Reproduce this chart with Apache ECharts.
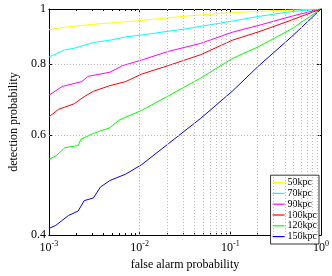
<!DOCTYPE html>
<html><head><meta charset="utf-8">
<script src="https://cdn.jsdelivr.net/npm/echarts@6/dist/echarts.min.js"></script>
<style>html,body{margin:0;padding:0;background:#fff}#c{width:332px;height:276px}</style>
</head><body><div id="c"></div>
<script>
const seriesNames = ['50kpc','70kpc','90kpc','100kpc','120kpc','150kpc'];
const seriesColors = ['#ffff00','#00ffff','#ff00ff','#ff0000','#00ff00','#0000ff'];
const d50 = [[0.001,0.919],[0.0015,0.929],[0.0031,0.940],[0.0093,0.953],[0.0105,0.955],[0.0313,0.971],[0.105,0.986],[0.313,0.993],[1,1]];
const d70 = [[0.001,0.823],[0.0015,0.8475],[0.0019,0.853],[0.0031,0.873],[0.0047,0.881],[0.007,0.893],[0.0105,0.900],[0.0313,0.922],[0.105,0.952],[0.207,0.9706],[0.472,0.9896],[1,1]];
const d90 = [[0.001,0.705],[0.0014,0.7305],[0.0023,0.745],[0.0027,0.761],[0.0047,0.774],[0.0065,0.795],[0.0105,0.813],[0.0207,0.842],[0.0472,0.870],[0.105,0.910],[0.207,0.936],[0.472,0.971],[1,1]];
const d100 = [[0.001,0.646],[0.00128,0.666],[0.0019,0.681],[0.00245,0.701],[0.0031,0.7165],[0.0047,0.733],[0.007,0.745],[0.0105,0.768],[0.0207,0.795],[0.0472,0.831],[0.105,0.881],[0.207,0.912],[0.472,0.956],[1,1]];
const d120 = [[0.001,0.544],[0.00119,0.551],[0.0015,0.570],[0.0021,0.575],[0.00226,0.590],[0.0031,0.604],[0.0047,0.618],[0.006,0.638],[0.0105,0.663],[0.0207,0.703],[0.0472,0.756],[0.105,0.818],[0.207,0.859],[0.472,0.922],[1,1]];
const d150 = [[0.001,0.411],[0.00119,0.416],[0.00164,0.433],[0.0021,0.441],[0.00245,0.460],[0.0031,0.465],[0.0037,0.486],[0.0047,0.499],[0.007,0.512],[0.0105,0.532],[0.0207,0.579],[0.0472,0.642],[0.105,0.7165],[0.207,0.795],[0.472,0.893],[1,1]];
const seriesData = [d50,d70,d90,d100,d120,d150];
const yTicks = [0.4,0.6,0.8,1];
const yGrid = [0.6,0.8];
const xMajor = [0.001,0.01,0.1,1];
const xGrid = [0.002,0.003,0.004,0.005,0.006,0.007,0.008,0.009,0.01,0.02,0.03,0.04,0.05,0.06,0.07,0.08,0.09,0.1,0.2,0.3,0.4,0.5,0.6,0.7,0.8,0.9];
const xMinor = xGrid.filter(v=>xMajor.indexOf(v)<0);

const FONT = 'Liberation Serif';
const chart = echarts.init(document.getElementById('c'));
const gridLineStyle = {color:'#b8b8b8', type:[1,2], width:1};
function tick(vals, len){ return {show:true, inside:true, length:len, customValues:vals, lineStyle:{color:'#000', width:1}}; }
const lineOn = {show:true, onZero:false, lineStyle:{color:'#000', width:1}};
const lineOff = {show:false, onZero:false};
const series = seriesData.map((d,i)=>({
  name: seriesNames[i], type:'line', data:d, showSymbol:false, symbol:'none',
  lineStyle:{color:seriesColors[i], width:1}, itemStyle:{color:seriesColors[i]}, z:3, animation:false
}));
series.push({
  type:'line', data:[], silent:true, z:1, animation:false,
  markLine:{silent:true, symbol:'none', label:{show:false}, lineStyle:gridLineStyle, animation:false,
    data: xGrid.map(v=>({xAxis:v})).concat(yGrid.map(v=>({yAxis:v})))}
});
function xAx(pos, ticks, len, showLine, extra){
  return Object.assign({type:'log', logBase:10, min:0.001, max:1, position:pos,
    axisLine: showLine?lineOn:lineOff, axisTick:tick(ticks,len), axisLabel:{show:false}, splitLine:{show:false}}, extra||{});
}
function yAx(pos, extra){
  return Object.assign({type:'log', logBase:10, min:0.4, max:1, position:pos,
    axisLine: lineOn, axisTick:tick(yTicks,4), axisLabel:{show:false}, splitLine:{show:false}}, extra||{});
}
chart.setOption({
  animation:false,
  grid:{left:33.5, right:11, top:9, bottom:30.5},
  legend:{
    data: seriesNames.map(n=>({name:n, icon:'rect'})),
    orient:'vertical', right:13, bottom:32, itemWidth:12, itemHeight:1.2, itemGap:0,
    padding:[2,2,2,2], borderColor:'#000', borderWidth:0.8, backgroundColor:'#fff',
    textStyle:{fontFamily:FONT, fontSize:10, color:'#000', lineHeight:10.8, padding:[0,0,0,-2]}
  },
  xAxis:[
    xAx('bottom', xMajor, 4, true, {
      name:'false alarm probability', nameLocation:'middle', nameGap:22,
      nameTextStyle:{fontFamily:FONT, fontSize:12, color:'#000'},
      axisLabel:{show:true, margin:5, customValues:xMajor, formatter:v=>'{b|10}{s|'+Math.round(Math.log10(v))+'}',
        rich:{b:{fontFamily:FONT,fontSize:12,color:'#000',lineHeight:14,verticalAlign:'bottom'},
              s:{fontFamily:FONT,fontSize:8,color:'#000',lineHeight:8,verticalAlign:'top'}}}}),
    xAx('top', xMajor, 4, true),
    xAx('bottom', xMinor, 2, false),
    xAx('top', xMinor, 2, false)
  ],
  yAxis:[
    yAx('left', {
      name:'detection probability', nameLocation:'middle', nameGap:19,
      nameTextStyle:{fontFamily:FONT, fontSize:12, color:'#000'},
      axisLabel:{show:true, margin:3, customValues:yTicks, fontFamily:FONT, fontSize:12, color:'#000', formatter:v=>String(+v.toFixed(2))}}),
    yAx('right')
  ],
  series: series
});
</script></body></html>
